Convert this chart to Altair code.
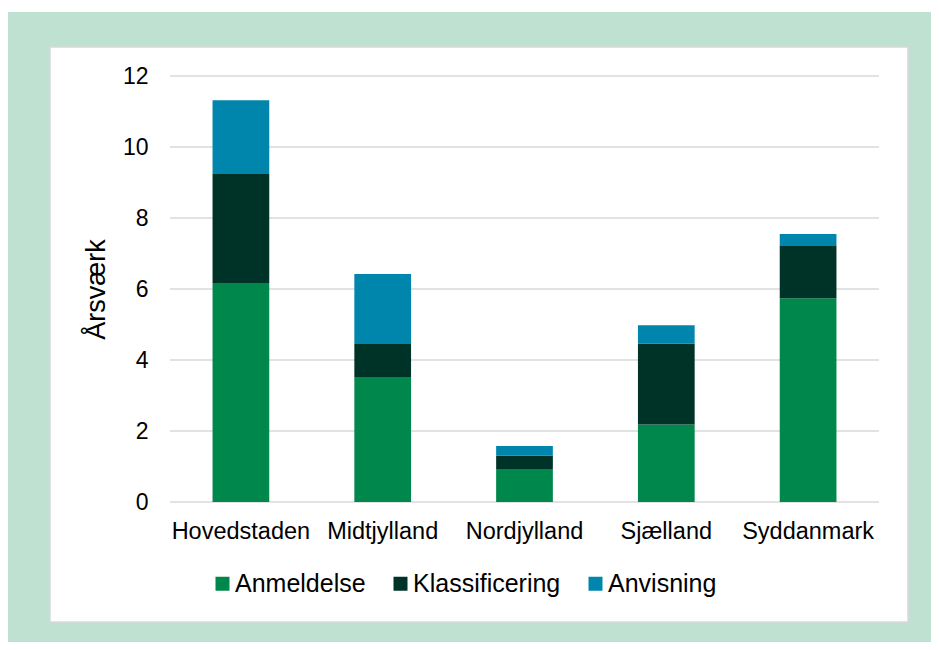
import altair as alt
import pandas as pd

regions = ["Hovedstaden", "Midtjylland", "Nordjylland", "Sjælland", "Syddanmark"]
series = ["Anmeldelse", "Klassificering", "Anvisning"]
anmeldelse = [6.17, 3.52, 0.93, 2.18, 5.74]
klassificering = [3.07, 0.93, 0.37, 2.28, 1.47]
anvisning = [2.08, 1.97, 0.28, 0.52, 0.34]
colors = ["#00874B", "#003328", "#0085AD"]
y_ticks = [0, 2, 4, 6, 8, 10, 12]
y_title = "Årsværk"

rows = []
for i, r in enumerate(regions):
    for j, (s, vals) in enumerate(zip(series, [anmeldelse, klassificering, anvisning])):
        rows.append({"region": r, "serie": s, "value": vals[i], "idx": j})
df = pd.DataFrame(rows)

W, H = 709, 426
PL, PT = 162, 68
TOTAL_W, TOTAL_H = 923, 634
FONT = "Liberation Sans"

one = pd.DataFrame({"k": [0]})

bg = alt.Chart(one).mark_rect(color="#BFE1D1").encode(
    x=alt.value(-PL), x2=alt.value(TOTAL_W - PL),
    y=alt.value(4 - PT), y2=alt.value(TOTAL_H - PT),
)

panel = alt.Chart(one).mark_rect(fill="white", stroke="#D9D9D9", strokeWidth=1.5).encode(
    x=alt.value(-120), x2=alt.value(738),
    y=alt.value(-29), y2=alt.value(546),
)

yscale = alt.Scale(domain=[0, 12], nice=False)
yaxis = alt.Axis(title=y_title, values=y_ticks, labelFontSize=23, labelPadding=22,
                 ticks=False, tickSize=0, domain=False, grid=False,
                 labelColor="#000000", labelFont=FONT,
                 titleFont=FONT, titleFontSize=27, titleFontWeight="normal",
                 titleColor="#000000", titleX=-74, titleY=213, titleBaseline="middle",
                 titleAngle=270, zindex=1)

grid = alt.Chart(pd.DataFrame({"t": y_ticks})).mark_rule(color="#D9D9D9", strokeWidth=1.5).encode(
    y=alt.Y("t:Q", scale=yscale, axis=yaxis),
)

bars = alt.Chart(df).mark_bar().encode(
    x=alt.X(
        "region:N", sort=regions,
        scale=alt.Scale(paddingInner=0.6, paddingOuter=0.3),
        axis=alt.Axis(title=None, labelAngle=0, labelFontSize=23.5, labelPadding=17,
                      ticks=False, tickSize=0, domain=False, grid=False,
                      labelColor="#000000", labelFont=FONT, zindex=1),
    ),
    y=alt.Y("value:Q", stack="zero", scale=yscale, axis=yaxis),
    color=alt.Color(
        "serie:N", sort=series,
        scale=alt.Scale(domain=series, range=colors),
        legend=alt.Legend(title=None, orient="none", legendX=40, legendY=495,
                          direction="horizontal", symbolType="square", symbolSize=196,
                          symbolStrokeWidth=0, labelFontSize=25, labelFont=FONT,
                          labelColor="#000000", labelOffset=0, columnPadding=22,
                          padding=0, zindex=1, labelLimit=300),
    ),
    order=alt.Order("idx:Q", sort="ascending"),
)

chart = alt.layer(bg, panel, grid, bars).properties(
    width=W, height=H,
    autosize=alt.AutoSizeParams(type="none"),
    padding={"left": PL, "top": PT, "right": TOTAL_W - PL - W, "bottom": TOTAL_H - PT - H},
    background="white",
).configure_view(stroke=None)

chart.save("out.html", embed_options={"renderer": "svg", "actions": False})
